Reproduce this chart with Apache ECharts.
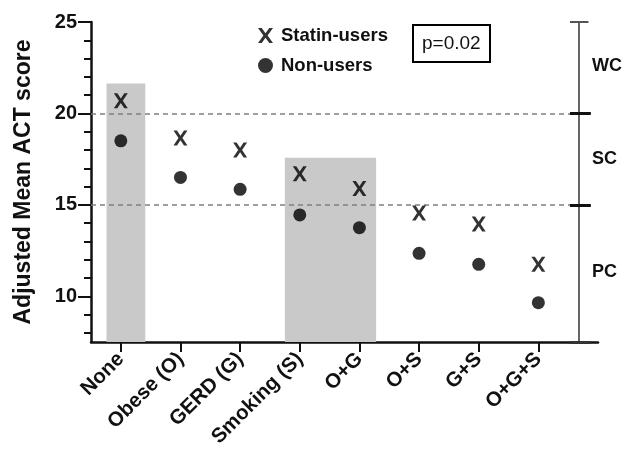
<!DOCTYPE html>
<html><head><meta charset="utf-8">
<script src="https://cdn.jsdelivr.net/npm/echarts@6/dist/echarts.min.js"></script>
<style>html,body{margin:0;padding:0;background:#fff}#c{width:636px;height:462px}</style>
</head><body><div id="c"></div>
<script>
const categories = ['None','Obese (O)','GERD (G)','Smoking (S)','O+G','O+S','G+S','O+G+S'];
const statinUsers = [20.7, 18.65, 18.0, 16.7, 15.9, 14.55, 13.95, 11.75];
const nonUsers = [18.5, 16.5, 15.85, 14.45, 13.75, 12.35, 11.75, 9.65];
const yMajorTicks = [10, 15, 20, 25];
const yMinorTicks = [8, 9, 11, 12, 13, 14, 16, 17, 18, 19, 21, 22, 23, 24];
const controlThresholds = [15, 20];
const controlLabels = ['PC', 'SC', 'WC'];
const controlLabelValues = [11.3, 17.5, 22.6];
const shadedGroups = [[-0.24, 0.41, 21.63], [2.75, 4.28, 17.58]];
const pValue = 'p=0.02';

const FONT = '"Liberation Sans", Arial, Helvetica, sans-serif';
const YMIN = 7.5, YMAX = 25, RX = 7.68;
const xIdx = categories.map((_, i) => i);
const X_PATH = 'path://M0,0L2.5,0L5,3.5L7.5,0L10,0L6.4,5L10,10L7.5,10L5,6.5L2.5,10L0,10L3.6,5Z';

const chart = echarts.init(document.getElementById('c'), null, {renderer: 'canvas'});
const refLines = [];
controlThresholds.forEach(v => {
  refLines.push([{coord: [-0.5, v], lineStyle: {type: [5, 4], color: '#808080', width: 1.5}}, {coord: [RX, v]}]);
  refLines.push([{coord: [7.53, v], lineStyle: {type: 'solid', color: '#111', width: 3}}, {coord: [7.88, v]}]);
});
refLines.push([{coord: [7.53, YMAX], lineStyle: {type: 'solid', color: '#555', width: 2}}, {coord: [7.84, YMAX]}]);
refLines.push([{coord: [7.52, YMIN], lineStyle: {type: 'solid', color: '#333', width: 3}}, {coord: [7.88, YMIN]}]);

chart.setOption({
  animation: false,
  title: {
    text: pValue, left: 413, top: 25, padding: [9, 10, 8, 9],
    borderColor: '#000', borderWidth: 2,
    textStyle: {fontFamily: FONT, fontSize: 19, fontWeight: 'normal', color: '#111', lineHeight: 20}
  },
  legend: {
    orient: 'vertical', left: 253, top: 21, itemWidth: 15, itemHeight: 15, itemGap: 11,
    data: ['Statin-users', 'Non-users'],
    textStyle: {fontFamily: FONT, fontSize: 18.5, fontWeight: 'bold', color: '#111', padding: [0, 0, 0, 3]}
  },
  grid: {left: 91, top: 22, width: 507, height: 320},
  xAxis: {
    type: 'value', min: -0.5, max: 8,
    splitLine: {show: false},
    axisLine: {show: true, onZero: false, lineStyle: {color: '#111', width: 2.5}},
    axisTick: {show: true, customValues: xIdx, length: 10, lineStyle: {color: '#111', width: 2}},
    axisLabel: {
      customValues: xIdx, rotate: 45, margin: 14,
      formatter: v => categories[Math.round(v)],
      fontFamily: FONT, fontSize: 20.5, fontWeight: 'bold', color: '#111'
    }
  },
  yAxis: [{
    type: 'value', min: YMIN, max: YMAX,
    name: 'Adjusted Mean ACT score', nameLocation: 'middle', nameGap: 56, nameRotate: 90,
    nameTextStyle: {fontFamily: FONT, fontSize: 23, fontWeight: 'bold', color: '#111'},
    splitLine: {show: false},
    axisLine: {show: true, onZero: false, lineStyle: {color: '#111', width: 2.5}},
    axisTick: {show: true, customValues: yMajorTicks, length: 13, lineStyle: {color: '#111', width: 2}},
    axisLabel: {customValues: yMajorTicks, margin: 14, fontFamily: FONT, fontSize: 20, fontWeight: 'bold', color: '#111'}
  }, {
    type: 'value', min: YMIN, max: YMAX, position: 'left',
    splitLine: {show: false},
    axisLine: {show: false, onZero: false},
    axisTick: {show: true, customValues: yMinorTicks, length: 7, lineStyle: {color: '#111', width: 2}},
    axisLabel: {show: false}
  }, {
    type: 'value', min: YMIN, max: YMAX, position: 'right', offset: -19,
    splitLine: {show: false},
    axisLine: {show: true, onZero: false, lineStyle: {color: '#666', width: 2}},
    axisTick: {show: false},
    axisLabel: {
      customValues: controlLabelValues, margin: 13,
      formatter: v => controlLabels[controlLabelValues.indexOf(v)],
      fontFamily: FONT, fontSize: 18, fontWeight: 'bold', color: '#111'
    }
  }],
  series: [{
    name: 'shade', type: 'line', data: [], silent: true,
    markArea: {
      silent: true, itemStyle: {color: '#c9c9c9'},
      data: shadedGroups.map(g => [{coord: [g[0], YMIN]}, {coord: [g[1], g[2]]}])
    },
    markLine: {silent: true, symbol: 'none', label: {show: false}, data: refLines}
  }, {
    name: 'Statin-users', type: 'scatter', symbol: X_PATH, symbolSize: [14, 15],
    itemStyle: {color: '#000'}, z: 5,
    data: statinUsers.map((v, i) => [i, v])
  }, {
    name: 'Non-users', type: 'scatter', symbol: 'circle', symbolSize: 13,
    itemStyle: {color: '#000'}, z: 5,
    data: nonUsers.map((v, i) => [i, v])
  }]
});
</script></body></html>
